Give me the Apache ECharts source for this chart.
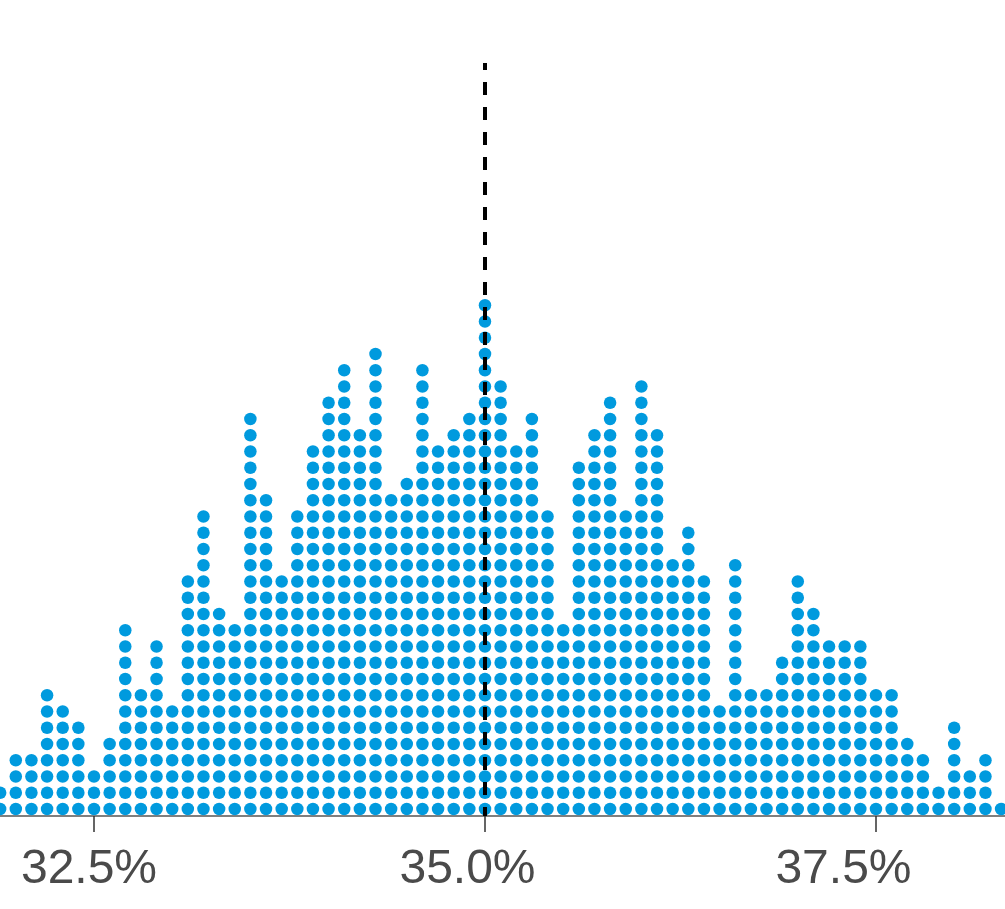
<!DOCTYPE html>
<html>
<head>
<meta charset="utf-8">
<script src="https://cdn.jsdelivr.net/npm/echarts@6/dist/echarts.min.js"></script>
<style>
  html, body { margin: 0; padding: 0; background: #ffffff; }
  #chart { width: 1005px; height: 909px; }
</style>
</head>
<body>
<div id="chart"></div>
<script>
// Bin centres (share, %) — one column of dots per bin
const bins = [31.9, 32.0, 32.1, 32.2, 32.3, 32.4, 32.5, 32.6, 32.7, 32.8, 32.9,
  33.0, 33.1, 33.2, 33.3, 33.4, 33.5, 33.6, 33.7, 33.8, 33.9,
  34.0, 34.1, 34.2, 34.3, 34.4, 34.5, 34.6, 34.7, 34.8, 34.9,
  35.0, 35.1, 35.2, 35.3, 35.4, 35.5, 35.6, 35.7, 35.8, 35.9,
  36.0, 36.1, 36.2, 36.3, 36.4, 36.5, 36.6, 36.7, 36.8, 36.9,
  37.0, 37.1, 37.2, 37.3, 37.4, 37.5, 37.6, 37.7, 37.8, 37.9,
  38.0, 38.1, 38.2, 38.3];
// Number of dots stacked in each bin
const counts = [2, 4, 4, 8, 7, 6, 3, 5, 12, 8, 11,
  7, 15, 19, 13, 12, 25, 20, 15, 19, 23,
  26, 28, 24, 29, 20, 21, 28, 23, 24, 25,
  32, 27, 23, 25, 19, 12, 22, 24, 26, 19,
  27, 24, 16, 18, 15, 7, 16, 8, 8, 10,
  15, 13, 11, 11, 11, 8, 8, 5, 4, 2,
  6, 3, 4, 1];
// Axis tick labels
const tickValues = [32.5, 35.0, 37.5];
// Reference line position
const refValue = 35.0;

// ---- option building (layout / style below) ----
const points = [];
bins.forEach((b, i) => {
  for (let n = 1; n <= counts[i]; n++) points.push([b, n]);
});

const Y_MIN = 0.569, Y_MAX = 46.969;   // row 1 sits 7px above the axis, rows 16.25px apart
const LINE_TOP = 46.908;                // where the dashed line starts (near the top)
const labelPadRight = [10, 35, 65];     // nudges the labels slightly left, as in the original
const rich = {};
labelPadRight.forEach((p, i) => {
  rich['l' + i] = {
    fontFamily: 'Liberation Sans',
    fontSize: 48,
    color: '#4a4a4a',
    padding: [0, p, 0, 0]
  };
});

const chart = echarts.init(document.getElementById('chart'), null, { renderer: 'canvas' });
chart.setOption({
  animation: false,
  backgroundColor: '#ffffff',
  grid: { left: 0, right: 0, top: 62, bottom: 93, containLabel: false },
  xAxis: {
    type: 'value',
    min: 31.899,
    max: 38.325,
    splitLine: { show: false },
    axisLine: { show: true, onZero: false, lineStyle: { color: '#555555', width: 1.5 } },
    axisTick: { show: true, customValues: tickValues, length: 16, lineStyle: { color: '#333333', width: 1.5 } },
    axisLabel: {
      show: true,
      customValues: tickValues,
      formatter: v => {
        const i = tickValues.findIndex(t => Math.abs(t - v) < 1e-6);
        return '{l' + (i < 0 ? 0 : i) + '|' + v.toFixed(1) + '%}';
      },
      rich: rich,
      fontFamily: 'Liberation Sans',
      fontSize: 48,
      color: '#4a4a4a',
      margin: 30
    }
  },
  yAxis: {
    type: 'value',
    min: Y_MIN,
    max: Y_MAX,
    show: false,
    splitLine: { show: false }
  },
  series: [
    {
      type: 'scatter',
      data: [],
      z: 1,
      silent: true,
      markLine: {
        silent: true,
        symbol: ['none', 'none'],
        label: { show: false },
        lineStyle: { type: [13, 12], dashOffset: 6, width: 4, color: '#000000' },
        data: [[{ coord: [refValue, LINE_TOP] }, { coord: [refValue, Y_MIN] }]]
      }
    },
    {
      type: 'scatter',
      z: 3,
      data: points,
      symbol: 'circle',
      symbolSize: 12.5,
      itemStyle: { color: '#009ade', opacity: 1 },
      silent: true
    }
  ]
});
</script>
</body>
</html>
